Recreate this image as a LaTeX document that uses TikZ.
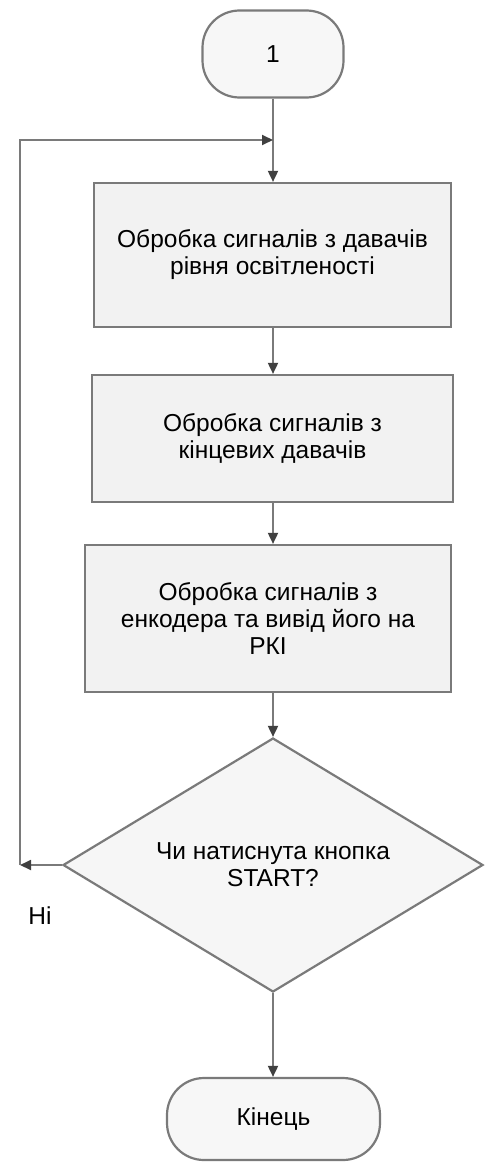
\documentclass[tikz,border=0pt]{standalone}
\usepackage{fontspec}
\setmainfont{Liberation Sans}
\usetikzlibrary{shapes.geometric,arrows.meta}
\definecolor{edge}{HTML}{7A7A7A}
\definecolor{boxfill}{HTML}{F2F2F2}
\definecolor{tip}{HTML}{404040}
\begin{document}
\begin{tikzpicture}[x=1pt,y=-1pt,
  every node/.style={font=\fontsize{24.5}{27}\selectfont, text=black},
  procbox/.style={draw=edge, line width=2.2pt, fill=boxfill, rectangle, align=center, inner sep=0pt},
  termbox/.style={draw=edge, line width=2.2pt, fill=boxfill!60!white, rectangle, rounded corners=37pt, inner sep=0pt},
  decbox/.style={draw=edge, line width=2.2pt, fill=boxfill!70!white, diamond, inner sep=0pt},
  conn/.style={draw=edge, line width=1.8pt},
  arr/.style={conn, -{Triangle[length=11pt,width=10pt,color=tip]}}
]
\useasboundingbox (0,0) rectangle (486,1164);
\node[termbox, minimum width=141pt, minimum height=87pt] (start) at (273,54) {1};
\node[procbox, minimum width=357pt, minimum height=144pt] (b1) at (272.5,255) {Обробка сигналів з давачів\\рівня освітленості};
\node[procbox, minimum width=361pt, minimum height=127pt] (b2) at (272.5,438.5) {Обробка сигналів з\\кінцевих давачів};
\node[procbox, minimum width=366pt, minimum height=147pt] (b3) at (268,618.5) {Обробка сигналів з\\енкодера та вивід його на\\РКІ};
\node[decbox, minimum width=420pt, minimum height=254pt] (dec) at (273,865) {};
\node[align=center] (dectext) at (dec.center) {Чи натиснута кнопка\\START?};
\node[termbox, minimum width=213pt, minimum height=82pt] (end) at (273.5,1119) {Кінець};
\node (no) at (40,916) {Ні};
\coordinate (join) at (273,140);
\coordinate (cl) at (20,865);
\coordinate (tl) at (20,140);
\draw[conn] (start.south) -- (join);
\draw[arr] (join) -- (join |- b1.north);
\draw[arr] (b1.south -| join) -- (b2.north -| join);
\draw[arr] (b2.south -| join) -- (b3.north -| join);
\draw[arr] (b3.south -| join) -- (dec.north);
\draw[arr] (dec.south) -- (end.north -| dec.south);
\draw[arr] (dec.west) -- (cl);
\draw[arr] (cl) -- (tl) -- (join);
\end{tikzpicture}
\end{document}
